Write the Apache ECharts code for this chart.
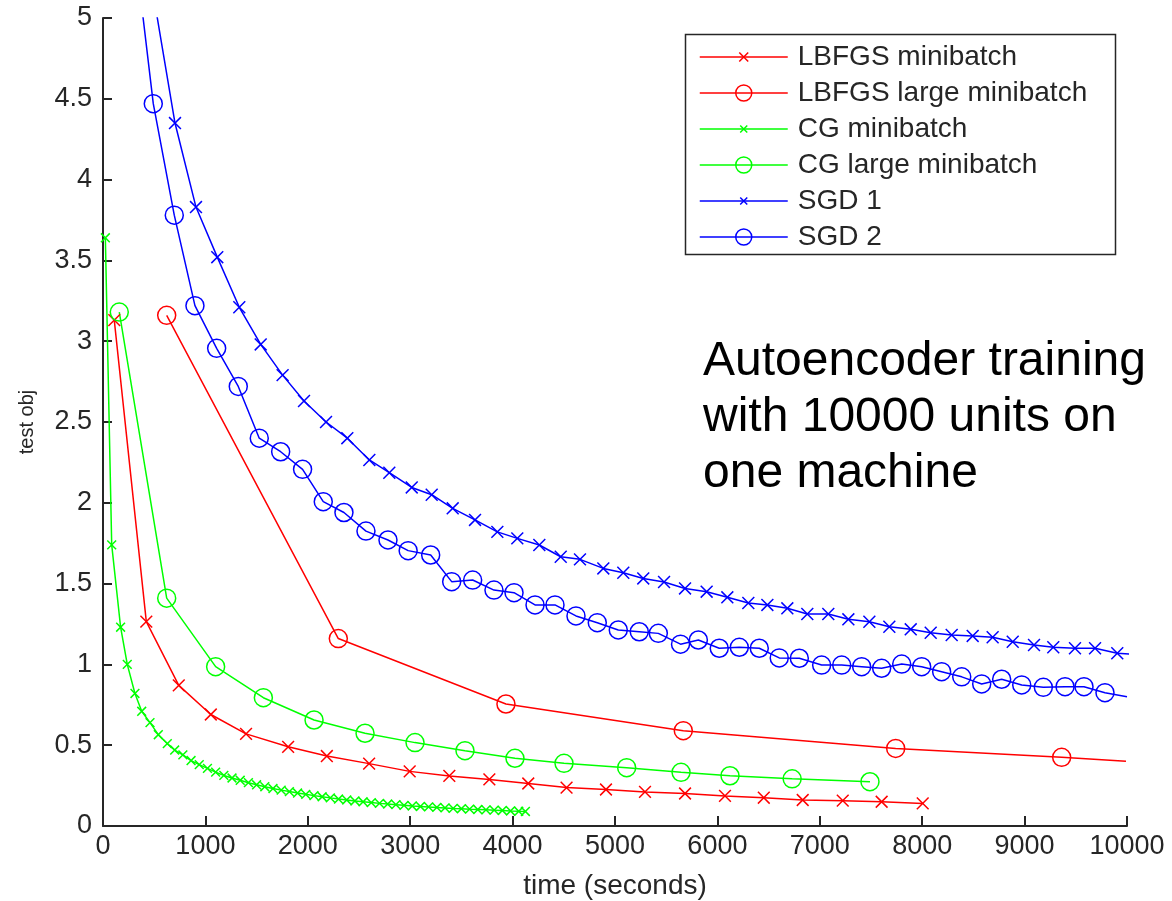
<!DOCTYPE html>
<html>
<head>
<meta charset="utf-8">
<script src="https://cdn.jsdelivr.net/npm/echarts@6/dist/echarts.min.js"></script>
<style>
html,body{margin:0;padding:0;background:#fff;}
#chart{width:1172px;height:901px;}
</style>
</head>
<body>
<div id="chart"></div>
<script>
// ---- data (time in seconds, test objective) ----
const lbfgsMiniX = [110, 423, 740, 1053, 1397, 1808, 2186, 2599, 2995, 3382, 3773, 4153, 4527, 4912, 5293, 5684, 6074, 6453, 6833, 7224, 7604, 8005];
const lbfgsMiniY = [3.13, 1.265, 0.87, 0.69, 0.57, 0.49, 0.433, 0.386, 0.338, 0.31, 0.288, 0.263, 0.238, 0.226, 0.211, 0.201, 0.186, 0.175, 0.161, 0.157, 0.15, 0.14];

const lbfgsLargeX = [622, 2298, 3935, 5667, 7741, 9362, 9990];
const lbfgsLargeY = [3.16, 1.16, 0.755, 0.59, 0.48, 0.425, 0.40];
const lbfgsLargeMarker = [1, 1, 1, 1, 1, 1, 0];

const cgMiniX = [23, 85, 172, 237, 312, 378, 459, 540, 628, 700, 780, 860, 940, 1020, 1100, 1180, 1260, 1340, 1420, 1500, 1580, 1660, 1740, 1820, 1900, 1980, 2060, 2140, 2220, 2300, 2380, 2460, 2540, 2620, 2700, 2780, 2860, 2940, 3020, 3100, 3180, 3260, 3340, 3420, 3500, 3580, 3660, 3740, 3820, 3900, 3980, 4060, 4125];
const cgMiniY = [3.64, 1.74, 1.23, 1.0, 0.82, 0.71, 0.64, 0.565, 0.51, 0.47, 0.44, 0.405, 0.38, 0.357, 0.333, 0.313, 0.297, 0.283, 0.268, 0.255, 0.243, 0.232, 0.222, 0.213, 0.204, 0.196, 0.188, 0.181, 0.174, 0.167, 0.161, 0.155, 0.15, 0.145, 0.14, 0.136, 0.132, 0.128, 0.124, 0.121, 0.118, 0.115, 0.112, 0.109, 0.107, 0.104, 0.102, 0.1, 0.098, 0.096, 0.093, 0.091, 0.09];

const cgLargeX = [159, 622, 1100, 1566, 2061, 2559, 3047, 3535, 4023, 4502, 5114, 5645, 6123, 6730, 7490];
const cgLargeY = [3.18, 1.41, 0.986, 0.794, 0.656, 0.574, 0.516, 0.466, 0.419, 0.388, 0.361, 0.332, 0.311, 0.292, 0.274];

const sgd1X = [480, 703, 908, 1116, 1331, 1540, 1754, 1963, 2178, 2386, 2601, 2796, 3015, 3210, 3415, 3633, 3851, 4046, 4261, 4470, 4658, 4886, 5081, 5276, 5479, 5684, 5895, 6097, 6302, 6488, 6683, 6878, 7083, 7279, 7484, 7679, 7888, 8083, 8288, 8493, 8688, 8884, 9092, 9280, 9492, 9688, 9905, 10100];
const sgd1Y = [5.19, 4.35, 3.83, 3.52, 3.21, 2.98, 2.79, 2.63, 2.50, 2.40, 2.265, 2.186, 2.095, 2.05, 1.966, 1.894, 1.82, 1.78, 1.739, 1.666, 1.65, 1.594, 1.567, 1.532, 1.51, 1.47, 1.45, 1.415, 1.38, 1.368, 1.347, 1.312, 1.312, 1.279, 1.264, 1.233, 1.217, 1.196, 1.182, 1.176, 1.168, 1.14, 1.12, 1.106, 1.10, 1.10, 1.069, 1.06];

const sgd2X = [285, 491, 696, 898, 1110, 1321, 1526, 1735, 1949, 2151, 2353, 2568, 2783, 2980, 3200, 3405, 3610, 3818, 4014, 4219, 4414, 4619, 4827, 5032, 5237, 5423, 5640, 5814, 6018, 6214, 6409, 6604, 6800, 7018, 7214, 7409, 7604, 7800, 7995, 8190, 8386, 8581, 8776, 8972, 9183, 9395, 9580, 9785, 10000];
const sgd2Y = [5.57, 4.47, 3.78, 3.22, 2.956, 2.72, 2.40, 2.316, 2.207, 2.007, 1.94, 1.825, 1.77, 1.704, 1.677, 1.512, 1.522, 1.46, 1.444, 1.368, 1.368, 1.30, 1.258, 1.213, 1.202, 1.192, 1.125, 1.151, 1.10, 1.106, 1.10, 1.04, 1.038, 0.996, 0.996, 0.986, 0.976, 1.002, 0.986, 0.955, 0.923, 0.879, 0.908, 0.873, 0.858, 0.862, 0.862, 0.825, 0.80];
const sgd2Marker = sgd2X.map((v, i) => i === sgd2X.length - 1 ? 0 : 1);

const seriesNames = ['LBFGS minibatch', 'LBFGS large minibatch', 'CG minibatch', 'CG large minibatch', 'SGD 1', 'SGD 2'];
const xTicks = [0, 10000, 1000];
const yTicks = [0, 5, 0.5];
const annotationLines = ['Autoencoder training', 'with 10000 units on', 'one machine'];

// ---- styling ----
const RED = '#ff0000', GREEN = '#00ff00', BLUE = '#0000ff';
const FONT = '"Liberation Sans", Arial, Helvetica, sans-serif';
const TXT = '#262626';
function crossPath(r) { // cross occupying fraction r of a 100x100 box
  const a = Math.round(50 - 50 * r), b = Math.round(50 + 50 * r);
  return 'path://M0,0M100,100M' + a + ',' + a + 'L' + b + ',' + b + 'M' + b + ',' + a + 'L' + a + ',' + b;
}
function zip(xs, ys, markers) {
  return xs.map((x, i) => {
    const d = { value: [x, ys[i]] };
    if (markers && !markers[i]) d.symbol = 'none';
    return d;
  });
}
function mk(name, color, xs, ys, symbol, size, markers) {
  return {
    name: name, type: 'line', data: zip(xs, ys, markers),
    symbol: symbol, symbolSize: size, showSymbol: true, showAllSymbol: true,
    clip: true, animation: false, smooth: false,
    lineStyle: { color: color, width: 1.5 },
    itemStyle: { color: 'rgba(0,0,0,0)', borderColor: color, borderWidth: 1.5 },
    emphasis: { disabled: true }
  };
}

const chart = echarts.init(document.getElementById('chart'), null, { renderer: 'canvas' });
chart.setOption({
  animation: false,
  backgroundColor: '#fff',
  grid: { left: 103, top: 18, right: 45, bottom: 75, containLabel: false, outerBoundsMode: 'none' },
  xAxis: {
    type: 'value', min: xTicks[0], max: xTicks[1], interval: xTicks[2],
    name: 'time (seconds)', nameLocation: 'middle', nameGap: 46,
    nameTextStyle: { fontFamily: FONT, fontSize: 28, color: TXT },
    axisLine: { show: true, lineStyle: { color: TXT, width: 2 } },
    axisTick: { show: true, inside: true, length: 10, lineStyle: { color: TXT, width: 2 } },
    axisLabel: { fontFamily: FONT, fontSize: 27, color: TXT, margin: 7, formatter: v => String(v) },
    splitLine: { show: false }
  },
  yAxis: {
    type: 'value', min: yTicks[0], max: yTicks[1], interval: yTicks[2],
    name: 'test obj', nameLocation: 'middle', nameGap: 66, nameRotate: 90,
    nameTextStyle: { fontFamily: FONT, fontSize: 20, color: TXT },
    axisLine: { show: true, lineStyle: { color: TXT, width: 2 } },
    axisTick: { show: true, inside: true, length: 9, lineStyle: { color: TXT, width: 2 } },
    axisLabel: { fontFamily: FONT, fontSize: 27, color: TXT, margin: 11, formatter: v => String(v) },
    splitLine: { show: false }
  },
  legend: {
    data: seriesNames,
    orient: 'vertical', left: 694, top: 38,
    itemWidth: 88, itemHeight: 20, itemGap: 8,
    textStyle: { fontFamily: FONT, fontSize: 28, color: TXT, padding: [0, 0, 0, 5] },
    itemStyle: { borderWidth: 1.5 },
    lineStyle: { width: 1.5 },
    selectedMode: false,
    backgroundColor: 'transparent'
  },
  graphic: [
    { type: 'rect', left: 683, top: 32, shape: { width: 430, height: 220 },
      style: { fill: 'none', stroke: TXT, lineWidth: 1.5 }, z: 100 },
    { type: 'text', left: 703, top: 334,
      style: { text: annotationLines.join('\n'), font: '48px ' + FONT, fill: '#000', lineHeight: 56 }, z: 100 }
  ],
  series: [
    mk(seriesNames[0], RED, lbfgsMiniX, lbfgsMiniY, crossPath(0.56), 21),
    mk(seriesNames[1], RED, lbfgsLargeX, lbfgsLargeY, 'circle', 18, lbfgsLargeMarker),
    mk(seriesNames[2], GREEN, cgMiniX, cgMiniY, crossPath(0.44), 20),
    mk(seriesNames[3], GREEN, cgLargeX, cgLargeY, 'circle', 18),
    mk(seriesNames[4], BLUE, sgd1X, sgd1Y, crossPath(0.44), 27),
    mk(seriesNames[5], BLUE, sgd2X, sgd2Y, 'circle', 18, sgd2Marker)
  ]
});
</script>
</body>
</html>
